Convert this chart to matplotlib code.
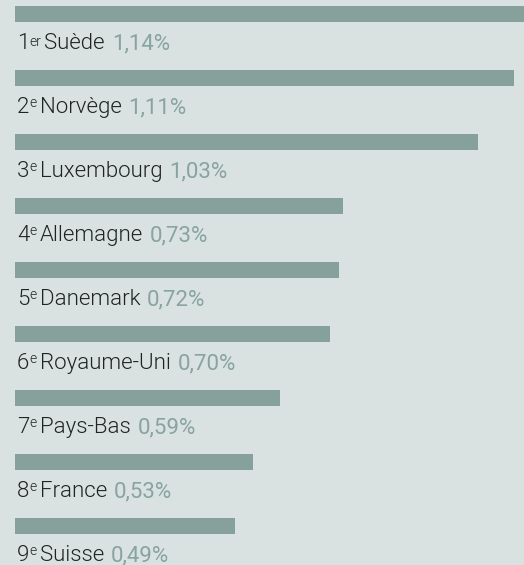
import matplotlib
matplotlib.use("Agg")
import matplotlib.pyplot as plt
from matplotlib.transforms import offset_copy

# ── Daten ─────────────────────────────────────────────────────────────────────
rangs    = ["1", "2", "3", "4", "5", "6", "7", "8", "9"]
suffixes = ["er", "e", "e", "e", "e", "e", "e", "e", "e"]
pays     = ["Suède", "Norvège", "Luxembourg", "Allemagne", "Danemark",
            "Royaume-Uni", "Pays-Bas", "France", "Suisse"]
valeurs  = [1.14, 1.11, 1.03, 0.73, 0.72, 0.70, 0.59, 0.53, 0.49]
etiquettes = ["1,14%", "1,11%", "1,03%", "0,73%", "0,72%",
              "0,70%", "0,59%", "0,53%", "0,49%"]

FOND   = "#d9e2e1"
BARRE  = "#86a09b"
TEXTE  = "#222222"
VALEUR = "#88a4a0"

W, H, DPI = 524, 565, 100
X0 = 15           # marge gauche en px
PX_UNITE = 449.5  # px par point de %
PAS = 64          # px entre deux barres
Y0 = 14           # centre de la première barre
BASE = 35         # ligne de base du texte sous le centre de la barre

fig = plt.figure(figsize=(W / DPI, H / DPI), dpi=DPI, facecolor=FOND)
ax = fig.add_axes([X0 / W, 0, 1 - X0 / W, 1])
ax.set_facecolor(FOND)
ax.set_xlim(0, (W - X0) / PX_UNITE)
ax.set_ylim((H - Y0) / PAS, -Y0 / PAS)
ax.axis("off")

pos = list(range(len(valeurs)))
ax.barh(pos, valeurs, height=16 / PAS, color=BARRE, align="center")

renderer = fig.canvas.get_renderer()
STYLE_NOM = dict(family="Roboto", fontweight=300, fontsize=16, color=TEXTE)
STYLE_SUP = dict(family="Roboto", fontweight=300, fontsize=10, color=TEXTE)
STYLE_VAL = dict(family="Roboto", fontweight=400, fontsize=16, color=VALEUR)


def morceau(y, x, s, style, dy=0):
    """Place un bout de texte à x px du bord gauche, renvoie sa fin en px."""
    tr = offset_copy(ax.transData, fig=fig, x=x, y=dy, units="dots")
    t = ax.text(0, y, s, ha="left", va="baseline", transform=tr, **style)
    return x + t.get_window_extent(renderer).width


for i in pos:
    yb = i + BASE / PAS
    x = morceau(yb, 2, rangs[i], STYLE_NOM)
    lev = 3.5 if suffixes[i] == "er" else 6
    x = morceau(yb, x, suffixes[i], STYLE_SUP, dy=lev)
    x = morceau(yb, x + 3, pays[i], STYLE_NOM)
    morceau(yb, x + 7, etiquettes[i], STYLE_VAL)

fig.savefig("out.png", dpi=DPI, facecolor=FOND)
